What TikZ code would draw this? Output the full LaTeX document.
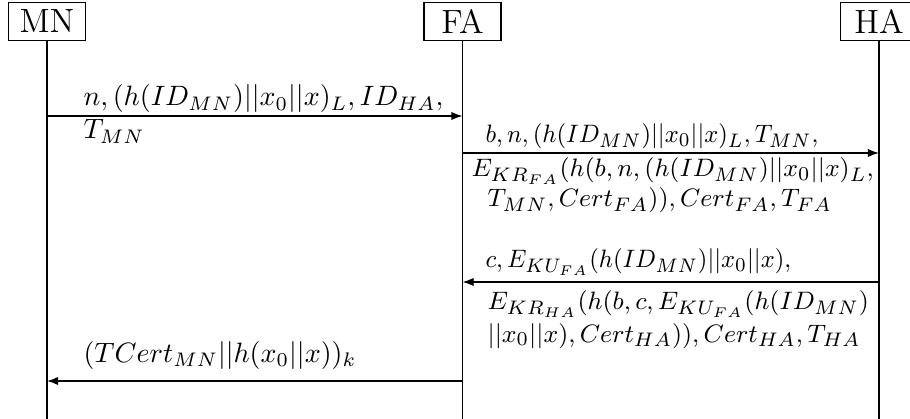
\documentclass[tikz,border=0pt]{standalone}
\usetikzlibrary{arrows.meta}
\begin{document}
\begin{tikzpicture}[x=0.357pt,y=-0.357pt,
  party/.style={draw,line width=0.5pt,minimum width=27.5pt,minimum height=13.6pt,inner sep=0pt,font=\large},
  lifeline/.style={line width=0.5pt},
  msg/.style={line width=0.5pt,-{Latex[length=4pt,width=3pt]}},
  txt/.style={anchor=base west,inner sep=0pt},
  rtxt/.style={txt,font=\fontsize{9.5}{11}\selectfont}]
\useasboundingbox (0,0) rectangle (910,419);
\clip (0,0) rectangle (910,419);
% participants
\node[party] (MN) at (47,21.5) {MN};
\node[party] (FA) at (462.5,21.5) {FA};
\node[party] (HA) at (879,21.5) {HA};
% lifeline ends
\coordinate (MNend) at (47,419);
\coordinate (FAend) at (462.5,419);
\coordinate (HAend) at (879,419);
\draw[lifeline] (MN) -- (MNend);
\draw[lifeline] (FA) -- (FAend);
\draw[lifeline] (HA) -- (HAend);
% message end points on the lifelines
\coordinate (m1a) at (47,116);   \coordinate (m1b) at (462.5,116);
\coordinate (m2a) at (462.5,153); \coordinate (m2b) at (879,153);
\coordinate (m3a) at (879,282);  \coordinate (m3b) at (462.5,282);
\coordinate (m4a) at (462.5,381); \coordinate (m4b) at (47,381);
\draw[msg] (m1a) -- (m1b);
\draw[msg] (m2a) -- (m2b);
\draw[msg] (m3a) -- (m3b);
\draw[msg] (m4a) -- (m4b);
% message 1
\node[txt] (t1a) at (83,106) {$n,(h(ID_{MN})||x_0||x)_L,ID_{HA},$};
\node[txt] (t1b) at (83,139) {$T_{MN}$};
% message 2
\node[rtxt] (t2a) at (485,143) {\scalebox{0.95}[1]{$b,n,(h(ID_{MN})||x_0||x)_L,T_{MN},$}};
\node[rtxt] (t2b) at (471,177) {$E_{KR_{FA}}(h(b,n,(h(ID_{MN})||x_0||x)_L,$};
\node[rtxt] (t2c) at (487,207) {$T_{MN},Cert_{FA})),Cert_{FA},T_{FA}$};
% message 3
\node[rtxt] (t3a) at (485,268) {\scalebox{0.95}[1]{$c,E_{KU_{FA}}(h(ID_{MN})||x_0||x),$}};
\node[rtxt] (t3b) at (487,310) {$E_{KR_{HA}}(h(b,c,E_{KU_{FA}}(h(ID_{MN})$};
\node[rtxt] (t3c) at (487,342) {$||x_0||x),Cert_{HA})),Cert_{HA},T_{HA}$};
% message 4
\node[txt] (t4a) at (83,362) {$(TCert_{MN}||h(x_0||x))_k$};
\end{tikzpicture}
\end{document}
